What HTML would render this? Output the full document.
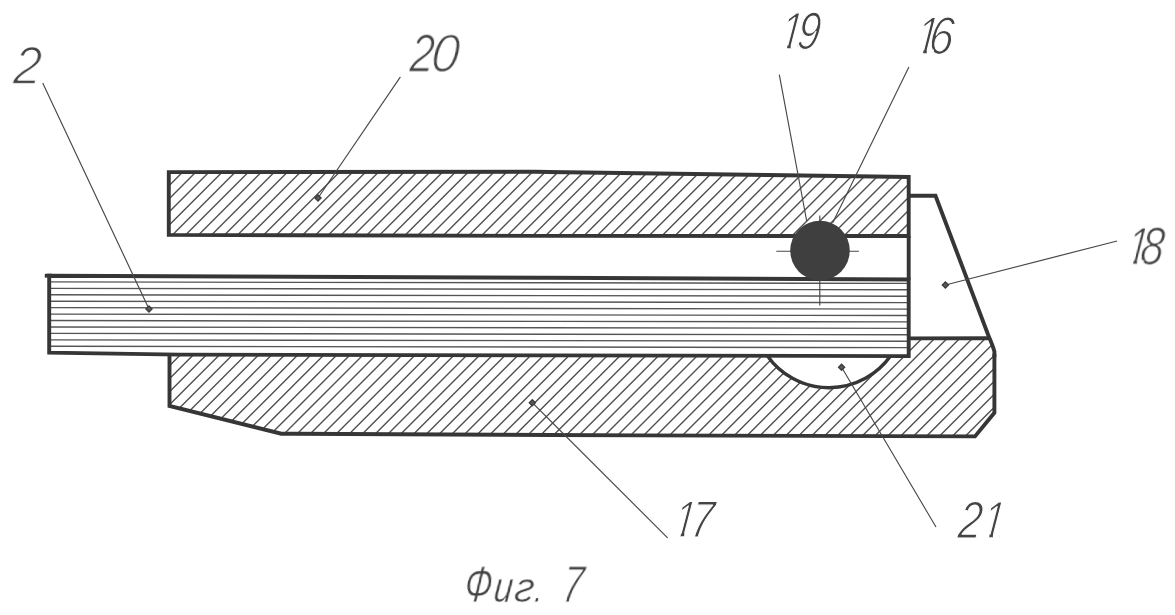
<!DOCTYPE html>
<html lang="ru"><head><meta charset="utf-8"><title>Фиг. 7</title>
<style>html,body{margin:0;padding:0;background:#fff;overflow:hidden}svg{display:block}.lbl{font-family:"Liberation Sans",sans-serif;font-style:italic;fill:#444444;stroke:#fff;paint-order:fill stroke;stroke-linejoin:round}</style></head><body>
<svg width="1175" height="615" viewBox="0 0 1175 615" role="img" aria-label="Фиг. 7">
<rect width="1175" height="615" fill="#fff"/>
<defs>
<filter id="soft" filterUnits="userSpaceOnUse" x="0" y="0" width="1175" height="615" color-interpolation-filters="sRGB"><feGaussianBlur stdDeviation="0.5"/></filter>
<clipPath id="cu"><polygon points="168.8,172.1 535.0,171.8 908.7,177.0 908.7,236.0 540.0,235.9 168.8,234.9"/></clipPath>
<clipPath id="cm"><polygon points="49.2,275.7 540.0,277.7 908.7,279.5 908.7,356.1 540.0,355.4 180.0,354.6 49.2,352.6"/></clipPath>
<clipPath id="cl"><path d="M169.5,354.5 L767.5,355.9 A75.5,75.5 0 0 0 890.5,356.1 L908.7,356.1 L908.7,338.4 L989.5,338.3 L994.4,352 L994.4,412.8 L975,436.4 L640,435.4 L281.3,433.7 L169.5,406 Z"/></clipPath>
</defs>
<g filter="url(#soft)">
<path clip-path="url(#cu)" d="M88.8,240L160.8,168M101.7,240L173.7,168M114.7,240L186.7,168M127.9,240L199.9,168M141.1,240L213.1,168M154.3,240L226.3,168M167.4,240L239.4,168M180.5,240L252.5,168M193.5,240L265.5,168M206.5,240L278.5,168M219.5,240L291.5,168M232.6,240L304.6,168M245.6,240L317.6,168M258.6,240L330.6,168M271.6,240L343.6,168M284.7,240L356.7,168M297.7,240L369.7,168M310.6,240L382.6,168M323.4,240L395.4,168M336.2,240L408.2,168M349.1,240L421.1,168M361.9,240L433.9,168M374.7,240L446.7,168M387.5,240L459.5,168M400.3,240L472.3,168M413.2,240L485.2,168M426.0,240L498.0,168M438.8,240L510.8,168M451.6,240L523.6,168M464.4,240L536.4,168M477.2,240L549.2,168M490.1,240L562.1,168M502.9,240L574.9,168M515.7,240L587.7,168M528.5,240L600.5,168M541.3,240L613.3,168M554.1,240L626.1,168M567.0,240L639.0,168M579.8,240L651.8,168M592.8,240L664.8,168M605.8,240L677.8,168M618.8,240L690.8,168M631.8,240L703.8,168M644.8,240L716.8,168M657.8,240L729.8,168M670.8,240L742.8,168M683.8,240L755.8,168M696.8,240L768.8,168M709.8,240L781.8,168M722.8,240L794.8,168M735.9,240L807.9,168M748.9,240L820.9,168M761.9,240L833.9,168M774.9,240L846.9,168M787.9,240L859.9,168M800.9,240L872.9,168M813.9,240L885.9,168M826.9,240L898.9,168M839.9,240L911.9,168M852.9,240L924.9,168M865.9,240L937.9,168M878.9,240L950.9,168M891.9,240L963.9,168M904.8,240L976.8,168M917.8,240L989.8,168" fill="none" stroke="#505050" stroke-width="1.4"/>
<path clip-path="url(#cl)" d="M56.3,440L161.3,335M69.3,440L174.3,335M82.2,440L187.2,335M95.2,440L200.2,335M108.2,440L213.2,335M121.3,440L226.3,335M134.3,440L239.3,335M147.4,440L252.4,335M160.5,440L265.5,335M173.5,440L278.5,335M186.6,440L291.6,335M199.6,440L304.6,335M212.7,440L317.7,335M225.7,440L330.7,335M238.8,440L343.8,335M251.8,440L356.8,335M264.9,440L369.9,335M278.0,440L383.0,335M291.0,440L396.0,335M304.1,440L409.1,335M317.1,440L422.1,335M330.2,440L435.2,335M343.2,440L448.2,335M356.3,440L461.3,335M369.2,440L474.2,335M382.0,440L487.0,335M394.8,440L499.8,335M407.7,440L512.7,335M420.5,440L525.5,335M433.3,440L538.3,335M446.1,440L551.1,335M458.9,440L563.9,335M471.8,440L576.8,335M484.6,440L589.6,335M497.4,440L602.4,335M510.2,440L615.2,335M523.0,440L628.0,335M535.8,440L640.8,335M548.7,440L653.7,335M561.5,440L666.5,335M574.3,440L679.3,335M587.1,440L692.1,335M600.1,440L705.1,335M613.0,440L718.0,335M626.0,440L731.0,335M639.0,440L744.0,335M651.9,440L756.9,335M664.9,440L769.9,335M677.9,440L782.9,335M690.8,440L795.8,335M703.8,440L808.8,335M716.8,440L821.8,335M729.8,440L834.8,335M742.7,440L847.7,335M755.7,440L860.7,335M768.7,440L873.7,335M781.6,440L886.6,335M794.6,440L899.6,335M807.6,440L912.6,335M820.5,440L925.5,335M833.1,440L938.1,335M845.6,440L950.6,335M858.2,440L963.2,335M870.9,440L975.9,335M883.8,440L988.8,335M896.8,440L1001.8,335M909.7,440L1014.7,335M922.7,440L1027.7,335M935.6,440L1040.6,335M948.6,440L1053.6,335M961.5,440L1066.5,335M974.5,440L1079.5,335M987.4,440L1092.4,335M1000.4,440L1105.4,335" fill="none" stroke="#505050" stroke-width="1.4"/>
<path clip-path="url(#cm)" d="M49,281.90L908.7,283.40M49,288.34L908.7,289.82M49,294.78L908.7,296.24M49,301.22L908.7,302.66M49,307.66L908.7,309.08M49,314.10L908.7,315.50M49,320.54L908.7,321.92M49,326.98L908.7,328.34M49,333.42L908.7,334.76M49,339.86L908.7,341.18M49,346.30L908.7,347.60" fill="none" stroke="#555" stroke-width="1.4"/>
<polygon points="168.8,172.1 535.0,171.8 908.7,177.0 908.7,236.0 540.0,235.9 168.8,234.9" fill="none" stroke="#363636" stroke-width="3.9" stroke-linejoin="miter" stroke-linecap="butt"/>
<polygon points="49.2,275.7 540.0,277.7 908.7,279.5 908.7,356.1 540.0,355.4 180.0,354.6 49.2,352.6" fill="none" stroke="#363636" stroke-width="3.9" stroke-linejoin="miter" stroke-linecap="butt"/>
<path d="M44.8,275.7 L52,275.7" fill="none" stroke="#363636" stroke-width="3.9" stroke-linejoin="miter" stroke-linecap="butt"/>
<path d="M908.7,338.4 L989.5,338.3 M169.5,354.5 L169.5,406 L281.3,433.7 L640,435.4 L975,436.4 L994.4,412.8 L994.4,354 " fill="none" stroke="#363636" stroke-width="3.9" stroke-linejoin="miter" stroke-linecap="butt"/>
<path d="M908.7,236 L908.7,279.5" fill="none" stroke="#363636" stroke-width="3.9" stroke-linejoin="miter" stroke-linecap="butt"/>
<path d="M908.7,195.8 L935.5,195.8 L988.3,335.2 Q992.6,345 994.4,351.5 L994.4,357" fill="none" stroke="#363636" stroke-width="3.9" stroke-linejoin="miter" stroke-linecap="butt"/>
<path d="M767.5,355.9 A75.5,75.5 0 0 0 890.5,356.1" fill="none" stroke="#363636" stroke-width="3.4"/>
<path d="M776.3,251.2 L858.9,251.2 M819.8,215.5 L819.8,305.5" fill="none" stroke="#484848" stroke-width="1.15"/>
<circle cx="820" cy="250.6" r="29.8" fill="#3f3f3f"/>
<path d="M42.7,82.9L149,309M400.4,76.9L318,198M779.3,74.6L806.7,221.1M908.9,67.0L832.6,222.9M1117.1,241.0L945.4,285M936,527L841.6,367.2M667.6,537.8L532.3,402.7" fill="none" stroke="#484848" stroke-width="1.15"/>
<path d="M146.0,309.0 L149.0,306.0 L152.0,309.0 L149.0,312.0 Z" fill="#5c5c5c" stroke="#3c3c3c" stroke-width="1.4"/>
<path d="M315.0,198.0 L318.0,195.0 L321.0,198.0 L318.0,201.0 Z" fill="#5c5c5c" stroke="#3c3c3c" stroke-width="1.4"/>
<path d="M942.4,285.0 L945.4,282.0 L948.4,285.0 L945.4,288.0 Z" fill="#5c5c5c" stroke="#3c3c3c" stroke-width="1.4"/>
<path d="M838.6,367.2 L841.6,364.2 L844.6,367.2 L841.6,370.2 Z" fill="#5c5c5c" stroke="#3c3c3c" stroke-width="1.4"/>
<path d="M529.3,402.7 L532.3,399.7 L535.3,402.7 L532.3,405.7 Z" fill="#5c5c5c" stroke="#3c3c3c" stroke-width="1.4"/>
<text class="lbl" transform="translate(0,84.0) skewX(-4.19) scale(0.96,1)"><tspan x="12.9" textLength="29.27" lengthAdjust="spacingAndGlyphs" font-size="52.6" stroke-width="1.46">2</tspan></text>
<text class="lbl" transform="translate(0,71.8) skewX(-4.98) scale(0.895,1)"><tspan x="456.8" textLength="26.81" lengthAdjust="spacingAndGlyphs" font-size="52.6" stroke-width="1.24">2</tspan><tspan x="480.4" textLength="31.72" lengthAdjust="spacingAndGlyphs" font-size="52.6" stroke-width="1.48">0</tspan></text>
<clipPath id="k1" clipPathUnits="userSpaceOnUse"><path clip-rule="evenodd" d="M-200,-80H2600V30H-200ZM1025.40,-4.53H1035.51V3H1025.40ZM1040.06,-4.53H1049.22V3H1040.06Z"/></clipPath>
<text class="lbl" clip-path="url(#k1)" transform="translate(0,48.7) skewX(-6.6) scale(0.76,1)"><tspan x="1024.9" textLength="28.5" lengthAdjust="spacingAndGlyphs" font-size="52.6" stroke-width="1.4">1</tspan><tspan x="1047.4" textLength="30.04" lengthAdjust="spacingAndGlyphs" font-size="52.6" stroke-width="1.18">9</tspan></text>
<clipPath id="k2" clipPathUnits="userSpaceOnUse"><path clip-rule="evenodd" d="M-200,-80H2600V30H-200ZM1165.89,-4.58H1175.81V3H1165.89ZM1180.28,-4.58H1189.26V3H1180.28Z"/></clipPath>
<text class="lbl" clip-path="url(#k2)" transform="translate(0,54.0) skewX(-6.3) scale(0.785,1)"><tspan x="1165.4" textLength="27.96" lengthAdjust="spacingAndGlyphs" font-size="53.3" stroke-width="1.4">1</tspan><tspan x="1181.4" textLength="31.36" lengthAdjust="spacingAndGlyphs" font-size="53.3" stroke-width="1.28">6</tspan></text>
<clipPath id="k3" clipPathUnits="userSpaceOnUse"><path clip-rule="evenodd" d="M-200,-80H2600V30H-200ZM1461.69,-4.53H1471.67V3H1461.69ZM1476.17,-4.53H1485.21V3H1476.17Z"/></clipPath>
<text class="lbl" clip-path="url(#k3)" transform="translate(0,264.8) skewX(-6.48) scale(0.77,1)"><tspan x="1461.2" textLength="28.13" lengthAdjust="spacingAndGlyphs" font-size="52.6" stroke-width="1.4">1</tspan><tspan x="1479.2" textLength="30.41" lengthAdjust="spacingAndGlyphs" font-size="52.6" stroke-width="1.21">8</tspan></text>
<clipPath id="k4" clipPathUnits="userSpaceOnUse"><path clip-rule="evenodd" d="M-200,-80H2600V30H-200ZM1274.69,-4.53H1284.67V3H1274.69ZM1289.17,-4.53H1298.21V3H1289.17Z"/></clipPath>
<text class="lbl" clip-path="url(#k4)" transform="translate(0,538.1) skewX(-6.48) scale(0.77,1)"><tspan x="1242.8" textLength="30.41" lengthAdjust="spacingAndGlyphs" font-size="52.6" stroke-width="1.21">2</tspan><tspan x="1274.2" textLength="28.13" lengthAdjust="spacingAndGlyphs" font-size="52.6" stroke-width="1.4">1</tspan></text>
<clipPath id="k5" clipPathUnits="userSpaceOnUse"><path clip-rule="evenodd" d="M-200,-80H2600V30H-200ZM885.49,-4.48H895.46V3H885.49ZM899.95,-4.48H908.98V3H899.95Z"/></clipPath>
<text class="lbl" clip-path="url(#k5)" transform="translate(0,537.3) skewX(-6.6) scale(0.76,1)"><tspan x="885.0" textLength="28.1" lengthAdjust="spacingAndGlyphs" font-size="51.9" stroke-width="1.4">1</tspan><tspan x="907.2" textLength="29.62" lengthAdjust="spacingAndGlyphs" font-size="51.9" stroke-width="1.16">7</tspan></text>
<text class="lbl" transform="translate(0,602.4) skewX(-6.24) scale(0.79,1)"><tspan x="586.4" textLength="34.79" lengthAdjust="spacingAndGlyphs" font-size="51.6" stroke-width="0.99">Ф</tspan><tspan x="623.8" textLength="23.72" lengthAdjust="spacingAndGlyphs" font-size="42.1" stroke-width="0.5">и</tspan><tspan x="649.6" textLength="24.97" lengthAdjust="spacingAndGlyphs" font-size="42.1" stroke-width="0.7">г</tspan><tspan x="675.0" textLength="11.85" lengthAdjust="spacingAndGlyphs" font-size="42.1" stroke-width="0.97">.</tspan> <tspan x="710.1" textLength="26.52" lengthAdjust="spacingAndGlyphs" font-size="51.6" stroke-width="1.08">7</tspan></text>
</g>
</svg></body></html>
